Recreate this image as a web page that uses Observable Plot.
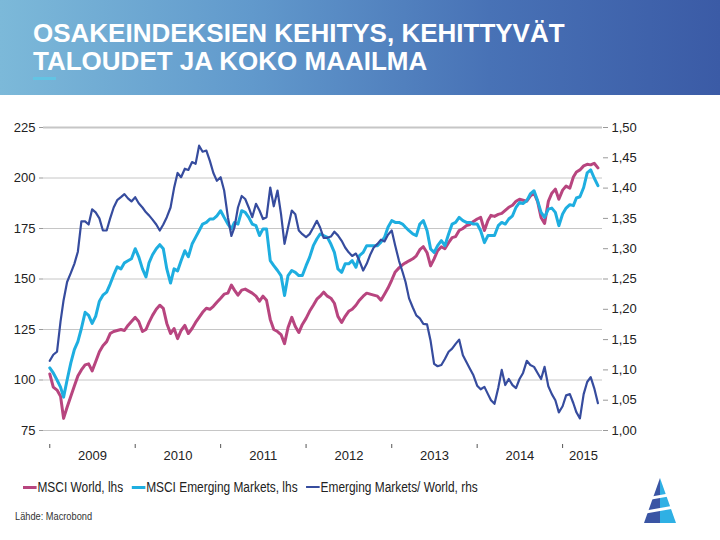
<!DOCTYPE html>
<html>
<head>
<meta charset="utf-8">
<script src="https://cdn.jsdelivr.net/npm/d3@7"></script>
<script src="https://cdn.jsdelivr.net/npm/@observablehq/plot@0.6"></script>
<style>
  html, body { margin: 0; padding: 0; background: #fff; }
  #page { position: relative; width: 720px; height: 540px; overflow: hidden;
          font-family: "Liberation Sans", Arial, sans-serif; }
  #header { position: absolute; left: 0; top: 0; width: 720px; height: 95px;
            background: linear-gradient(90deg, #7cb9d9 0%, #6199cc 35%, #4872b6 68%, #3b5ba6 100%); }
  #title { position: absolute; left: 33px; top: 19px; color: #fff;
           font-size: 26px; font-weight: bold; line-height: 28px; white-space: nowrap; }
  #bar { position: absolute; left: 33px; top: 77px; width: 23px; height: 3px; background: #62c4e4; }
  #chart { position: absolute; left: 0; top: 95px; }
  #legend { position: absolute; left: 23px; top: 479px; display: flex; align-items: center;
            font-size: 14px; color: #222; white-space: nowrap;
            transform: scaleX(0.85); transform-origin: left center; }
  #legend .item { display: flex; align-items: center; margin-right: 10px; }
  #legend .sw { width: 16px; margin-right: 1px; }
  #source { position: absolute; left: 15px; top: 510px; font-size: 11px; color: #333;
            transform: scaleX(0.84); transform-origin: left center; }
  #logo { position: absolute; left: 641px; top: 476px; }
</style>
</head>
<body>
<div id="page">
  <div id="header">
    <div id="title">OSAKEINDEKSIEN KEHITYS, KEHITTYVÄT<br>TALOUDET JA KOKO MAAILMA</div>
    <div id="bar"></div>
  </div>
  <div id="chart"></div>
  <div id="legend"></div>
  <div id="source">Lähde: Macrobond</div>
  <svg id="logo" width="38" height="48" viewBox="0 0 38 48">
    <polygon points="19,2 19,47 3,47" fill="#3a55a4"/>
    <polygon points="19,2 35,47 19,47" fill="#2fb0e4"/>
    <polygon points="2,22 36,16 36,19 2,25" fill="#fff"/>
    <polygon points="2,35 36,29 36,32 2,38" fill="#fff"/>
  </svg>
</div>
<script>
// Semi-monthly observations, Jan 2009 - late May 2015 (1st and 16th of each month)
const msciWorld = [
  103, 96.5, 95, 92, 81, 86.5, 92, 97, 102, 105,
  107.5, 108, 104.5, 109, 114, 117, 119, 123, 124, 124.5,
  125, 124.5, 127, 129, 131, 129, 124, 125, 128.5, 132,
  135, 137, 135.5, 128, 123, 125.5, 120.5, 124.5, 127, 123,
  125.5, 128.5, 131, 133.5, 135.5, 135, 136.5, 138.5, 140.5, 142.5,
  143, 147, 144.5, 142, 144.5, 145, 144, 143, 141.5, 139,
  141.5, 139.5, 130, 125, 124, 122.5, 118, 126, 131, 126.5,
  123.5, 127.5, 130.5, 134, 137, 140, 141.5, 143.5, 141.5, 140.5,
  138, 131.5, 128.5, 131.5, 134, 135, 137, 139.5, 141.5, 143,
  142.5, 142, 141.5, 139.5, 142.5, 145.5, 149.5, 153.5, 155.5, 157,
  158, 159, 160, 161.5, 164.5, 166, 163, 156.5, 160, 164,
  166, 165, 168, 170.5, 171, 174, 175, 176.4, 177, 178.5,
  179.7, 180.5, 174, 179, 181.5, 181, 182, 182.5, 184, 185.5,
  186.5, 188.5, 189.5, 189, 188.5, 191, 192.5, 188.4, 180.5, 177.5,
  188.4, 192.5, 194.5, 189.5, 194, 196, 195, 200.5, 203, 204,
  206, 206.8, 206.5, 207.3, 205
];
const msciEmerging = [
  106, 103.5, 100, 96.5, 91.5, 100, 108.5, 115, 119, 125.5,
  133.5, 132, 128, 131.5, 139, 142, 143.5, 147.5, 152, 156,
  155, 158, 159, 160, 165, 161, 155, 151, 158, 162,
  165, 167, 165, 155, 148, 155, 154, 159, 164, 161,
  167.3, 170.6, 173.9, 177.2, 178, 179.7, 179.7, 181.3, 183.8, 180.5,
  177.2, 174.8, 178, 177.2, 183.8, 183, 180.5, 177.2, 176.4, 171.5,
  174.8, 174.8, 159.1, 156.6, 154.2, 151.7, 141.8, 151.7, 154.2, 153.3,
  151.7, 151.7, 156.6, 160.7, 166.5, 169.8, 172.3, 171.5, 170.6, 167.3,
  163.2, 155, 153.3, 157.5, 157.5, 159.1, 155.8, 161.6, 163.2, 166.5,
  166.5, 166.5, 166.5, 168.2, 170.6, 175.6, 178.9, 178, 178, 177.2,
  175.6, 173.9, 172.3, 171.5, 177.2, 178.9, 173.9, 164.9, 163.2, 166.5,
  169, 166.5, 172.3, 177.2, 178, 180.5, 178.9, 178, 178, 177.2,
  177.2, 173.9, 168, 171.5, 171.5, 171.5, 176.4, 178, 177.2, 179.7,
  181.3, 185.5, 187.9, 187.4, 188.8, 192.1, 193.7, 188.8, 183, 180.5,
  184.6, 185.1, 183, 176.4, 182.2, 185.1, 186.8, 186.3, 190.1, 190.7,
  195.3, 202.5, 204, 200, 196.2
];
const emToWorld = [
  1.115, 1.125, 1.13, 1.18, 1.215, 1.245, 1.26, 1.275, 1.295, 1.345,
  1.345, 1.34, 1.365, 1.36, 1.35, 1.33, 1.33, 1.35, 1.368, 1.38,
  1.385, 1.39, 1.383, 1.378, 1.385, 1.375, 1.368, 1.36, 1.355, 1.348,
  1.34, 1.33, 1.34, 1.352, 1.368, 1.40, 1.425, 1.418, 1.432, 1.43,
  1.443, 1.44, 1.47, 1.46, 1.462, 1.445, 1.425, 1.412, 1.418, 1.396,
  1.352, 1.321, 1.335, 1.368, 1.387, 1.382, 1.368, 1.352, 1.374, 1.363,
  1.349, 1.352, 1.401, 1.37, 1.396, 1.357, 1.308, 1.335, 1.363, 1.357,
  1.33, 1.324, 1.319, 1.324, 1.335, 1.346, 1.335, 1.318, 1.318, 1.32,
  1.328, 1.322, 1.313, 1.302, 1.294, 1.288, 1.292, 1.28, 1.264, 1.275,
  1.29, 1.302, 1.308, 1.315, 1.312, 1.323, 1.33, 1.305, 1.28, 1.262,
  1.245, 1.218, 1.203, 1.19, 1.185, 1.176, 1.175, 1.148, 1.11, 1.106,
  1.108, 1.118, 1.13, 1.135, 1.143, 1.15, 1.124, 1.113, 1.102, 1.091,
  1.074, 1.068, 1.072, 1.06, 1.05, 1.044, 1.07, 1.1, 1.075, 1.085,
  1.075, 1.07, 1.085, 1.095, 1.115, 1.108, 1.105, 1.095, 1.085, 1.105,
  1.073, 1.06, 1.05, 1.03, 1.04, 1.058, 1.06, 1.045, 1.03, 1.02,
  1.06, 1.08, 1.088, 1.07, 1.045
];
const lhsTicks = [75, 100, 125, 150, 175, 200, 225];
const rhsTicks = [1.00, 1.05, 1.10, 1.15, 1.20, 1.25, 1.30, 1.35, 1.40, 1.45, 1.50];
const years = [2009, 2010, 2011, 2012, 2013, 2014, 2015];
const seriesNames = ["MSCI World, lhs", "MSCI Emerging Markets, lhs", "Emerging Markets/ World, rhs"];
const colors = ["#b8457f", "#1eaee0", "#364c9e"];

// observation dates: 1st and 16th of each month
const dates = msciWorld.map((_, k) => new Date(Date.UTC(2009, Math.floor(k / 2), k % 2 ? 16 : 1)));
const rows = dates.map((date, i) => ({date, world: msciWorld[i], em: msciEmerging[i], ratio: emToWorld[i]}));

// right-hand axis (1.00–1.50) shares the left scale (75–225)
const toLeft = r => 75 + (r - 1) * 300;
const fromLeft = v => 1 + (v - 75) / 300;
const comma = d => d3.format(".2f")(d).replace(".", ",");

const xStart = new Date(Date.UTC(2008, 11, 18));
const xEnd = new Date(Date.UTC(2015, 5, 29));
const yearStarts = years.map(y => new Date(Date.UTC(y, 0, 1)));
const yearMids = years.map(y => {
  const a = Date.UTC(y, 0, 1), b = Math.min(Date.UTC(y + 1, 0, 1), +xEnd);
  return new Date((a + b) / 2);
});

const chart = Plot.plot({
  width: 720,
  height: 375,
  marginLeft: 43,
  marginRight: 118,
  marginTop: 32,
  marginBottom: 26,
  x: {type: "utc", domain: [xStart, xEnd], range: [46, 604]},
  y: {domain: [75, 225], range: [335, 32]},
  style: {fontFamily: '"Liberation Sans", Arial, sans-serif', fontSize: "13px", color: "#222",
          background: "transparent", overflow: "visible"},
  marks: [
    Plot.gridY(lhsTicks.filter(d => d !== 225), {stroke: "#c6c6c6", strokeOpacity: 1, strokeWidth: 1}),
    Plot.gridY([225], {stroke: "#c6c6c6", strokeOpacity: 1, strokeWidth: 2}),
    Plot.axisY(lhsTicks, {anchor: "left", tickSize: 4, tickPadding: 4, stroke: "#999", label: null,
      tickFormat: d => String(d)}),
    Plot.axisY(rhsTicks.map(toLeft), {anchor: "right", tickSize: 5, tickPadding: 4, stroke: "#999", label: null,
      tickFormat: d => comma(fromLeft(d))}),
    Plot.axisX(yearStarts, {anchor: "bottom", tickSize: 4, stroke: "#555", label: null, tickFormat: () => ""}),
    Plot.axisX(yearMids, {anchor: "bottom", tickSize: 0, tickPadding: 6, label: null,
      tickFormat: d => String(d.getUTCFullYear())}),
    Plot.line(rows, {x: "date", y: "world", stroke: colors[0], strokeWidth: 3}),
    Plot.line(rows, {x: "date", y: "em", stroke: colors[1], strokeWidth: 3}),
    Plot.line(rows, {x: "date", y: d => toLeft(d.ratio), stroke: colors[2], strokeWidth: 2.2})
  ]
});
document.getElementById("chart").appendChild(chart);

// legend
const legend = document.getElementById("legend");
seriesNames.forEach((name, i) => {
  const item = document.createElement("div");
  item.className = "item";
  const sw = document.createElement("span");
  sw.className = "sw";
  sw.style.height = (i === 2 ? 2 : 3) + "px";
  sw.style.background = colors[i];
  const label = document.createElement("span");
  label.textContent = name;
  item.appendChild(sw);
  item.appendChild(label);
  legend.appendChild(item);
});
</script>
</body>
</html>
